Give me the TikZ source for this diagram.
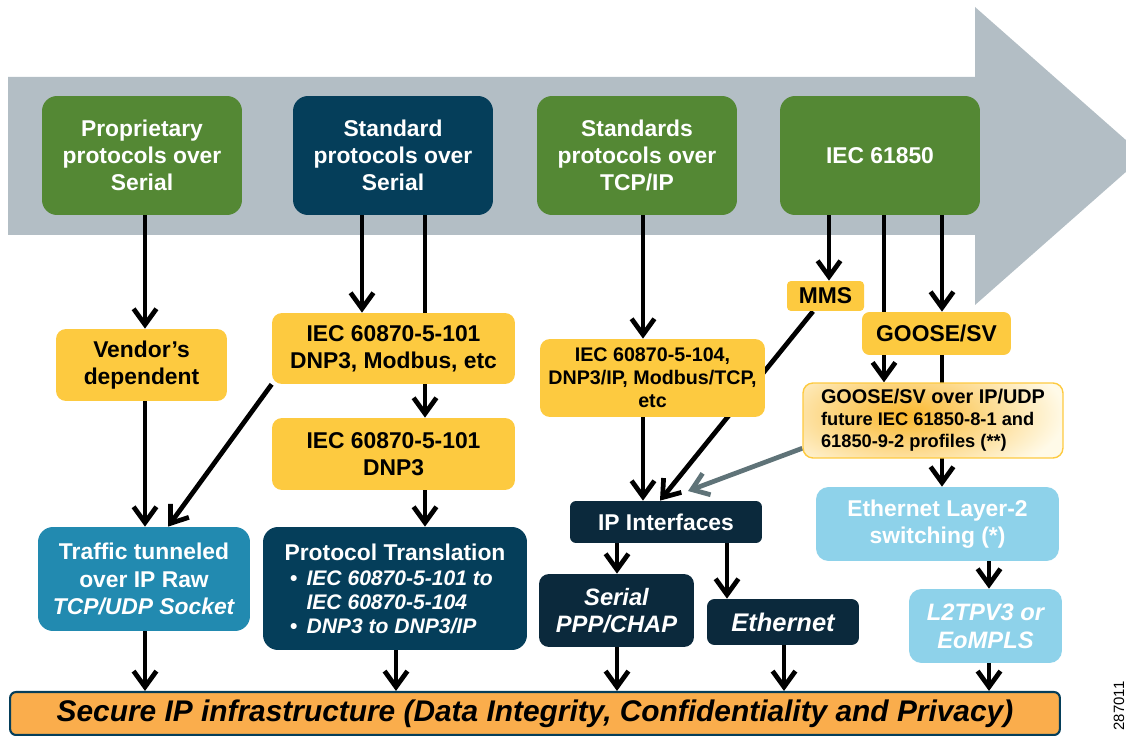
\documentclass[tikz,border=0pt]{standalone}
\usepackage{fontspec}
\setmainfont{Liberation Sans}
\usetikzlibrary{arrows.meta,backgrounds}

\definecolor{leafgreen}{RGB}{84,136,52}
\definecolor{deepteal}{RGB}{5,62,90}
\definecolor{inkblue}{RGB}{11,41,60}
\definecolor{tunnelblue}{RGB}{34,138,176}
\definecolor{sunyellow}{RGB}{253,202,64}
\definecolor{skyblue}{RGB}{142,210,234}
\definecolor{secorange}{RGB}{250,173,76}
\definecolor{arrowgrey}{RGB}{179,190,197}
\definecolor{slategrey}{RGB}{95,115,120}
\definecolor{creamglow}{RGB}{255,250,232}
\definecolor{amberglow}{RGB}{250,184,45}

\begin{document}
\begin{tikzpicture}[x=0.02cm,y=-0.02cm,
	box/.style={rounded corners=0.3cm, align=center, inner sep=2pt, font=\bfseries\fontsize{13}{15.5}\selectfont},
	greenbox/.style={box, fill=leafgreen, text=white, minimum width=4cm, minimum height=2.38cm},
	yellowbox/.style={box, rounded corners=0.2cm, fill=sunyellow, text=black},
	inkbox/.style={box, rounded corners=0.12cm, fill=inkblue, text=white},
	skybox/.style={box, rounded corners=0.25cm, fill=skyblue, text=white},
	arr/.style={line width=2.7pt, -{Straight Barb[length=9pt,width=13pt]}}]
	\useasboundingbox (0,0) rectangle (1126,736);
	% top row
	\node[greenbox] (prop) at (142,155.5) {Proprietary\\protocols over\\Serial};
	\node[greenbox, fill=deepteal] (stdser) at (393,155.5) {Standard\\protocols over\\Serial};
	\node[greenbox] (stdtcp) at (637,155.5) {Standards\\protocols over\\TCP/IP};
	\node[greenbox] (iec) at (880,155.5) {IEC 61850};
	% serial columns
	\node[yellowbox, minimum width=3.42cm, minimum height=1.44cm] (vendor) at (141.5,365) {Vendor’s\\dependent};
	\node[yellowbox, minimum width=4.86cm, minimum height=1.42cm] (iec101a) at (393.5,348.5) {IEC 60870-5-101\\DNP3, Modbus, etc};
	\node[yellowbox, minimum width=4.86cm, minimum height=1.44cm] (iec101b) at (393.5,454) {IEC 60870-5-101\\DNP3};
	\node[box, fill=tunnelblue, text=white, minimum width=4.24cm, minimum height=2.08cm] (tunnel) at (144,579) {Traffic tunneled\\over IP Raw\\\textit{TCP/UDP Socket}};
	\node[box, fill=deepteal, text=white, align=left, font=\bfseries\itshape\fontsize{12}{13.5}\selectfont, minimum width=5.28cm, minimum height=2.46cm] (transl) at (395,588.5)
		{{\upshape\fontsize{13}{15}\selectfont Protocol Translation}\\[1pt]
		\hspace*{3pt}\makebox[9.5pt][l]{•}IEC 60870-5-101 to\\
		\hspace*{12.5pt}IEC 60870-5-104\\
		\hspace*{3pt}\makebox[9.5pt][l]{•}DNP3 to DNP3/IP};
	% TCP/IP column
	\node[yellowbox, font=\bfseries\fontsize{11.2}{13}\selectfont, minimum width=4.5cm, minimum height=1.56cm] (iec104) at (652.5,378) {IEC 60870-5-104,\\DNP3/IP, Modbus/TCP,\\etc};
	\node[inkbox, minimum width=3.84cm, minimum height=0.84cm] (ipif) at (666,522) {IP Interfaces};
	\node[inkbox, rounded corners=0.2cm, font=\bfseries\itshape\fontsize{13.5}{15.5}\selectfont, minimum width=3.1cm, minimum height=1.46cm] (serial) at (616.5,610.5) {Serial\\PPP/CHAP};
	\node[inkbox, rounded corners=0.15cm, font=\bfseries\itshape\fontsize{14.5}{17}\selectfont, minimum width=3.04cm, minimum height=0.92cm] (ether) at (783,622) {Ethernet};
	% IEC 61850 column
	\node[yellowbox, rounded corners=0.08cm, inner sep=1pt, minimum width=1.54cm, minimum height=0.6cm] (mms) at (825.5,296) {MMS};
	\node[yellowbox, rounded corners=0.15cm, minimum width=2.98cm, minimum height=0.86cm] (goose) at (936.5,333.5) {GOOSE/SV};
	\node[box, rounded corners=0.2cm, draw=sunyellow, line width=0.8pt, fill=creamglow, text=black, align=left, font=\bfseries\fontsize{10.4}{12.5}\selectfont, minimum width=5.2cm, minimum height=1.5cm,
		path picture={\shade[inner color=amberglow, outer color=creamglow] (path picture bounding box.center) ++(-28,-6) ellipse [x radius=160, y radius=70];}] (gooseip) at (933,420.5)
		{{\fontsize{11.3}{12.5}\selectfont GOOSE/SV over IP/UDP}\\future IEC 61850-8-1 and\\61850-9-2 profiles (**)};
	\node[skybox, minimum width=4.86cm, minimum height=1.48cm] (l2) at (937.5,524) {Ethernet Layer-2\\switching (*)};
	\node[skybox, font=\bfseries\itshape\fontsize{13.5}{16}\selectfont, minimum width=3.06cm, minimum height=1.48cm] (l2tp) at (985.5,626) {L2TPV3 or\\EoMPLS};
	% bottom bar
	\node[box, rounded corners=0.12cm, fill=secorange, draw=deepteal, line width=1.2pt, font=\bfseries\itshape\fontsize{17}{20}\selectfont, minimum width=21cm, minimum height=0.86cm] (secure) at (535,713.5) {Secure IP infrastructure (Data Integrity, Confidentiality and Privacy)};
	\node[rotate=90, inner sep=0pt, font=\fontsize{8.5}{9}\selectfont] (figid) at (1119,706) {287011};
	% arrow columns
	\coordinate (xa) at (145,0);
	\coordinate (xb) at (362,0);
	\coordinate (xc) at (425,0);
	\coordinate (xd) at (396,0);
	\coordinate (xe) at (643,0);
	\coordinate (xf) at (617,0);
	\coordinate (xg) at (727,0);
	\coordinate (xh) at (784,0);
	\coordinate (xi) at (829,0);
	\coordinate (xj) at (884,0);
	\coordinate (xk) at (942,0);
	\coordinate (xl) at (989,0);
	\coordinate (xm) at (168,0);
	\coordinate (xn) at (813,0);
	\coordinate (xo) at (660,0);
	\coordinate (gtip) at (688,491);
	\begin{scope}[on background layer]
		\clip (0,0) rectangle (1126,736);
		\fill[arrowgrey] (8,77) -- (975,77) -- (975,7) -- (1144,156) -- (975,305) -- (975,235) -- (8,235) -- cycle;
		\draw[arr] (prop.south -| xa) -- (vendor.north -| xa);
		\draw[arr] (vendor.south -| xa) -- (tunnel.north -| xa);
		\draw[arr] (tunnel.south -| xa) -- (secure.north -| xa);
		\draw[arr] (stdser.south -| xb) -- (iec101a.north -| xb);
		\draw[arr] (stdser.south -| xc) -- (iec101b.north -| xc);
		\draw[arr] (iec101a.south west) -- (tunnel.north -| xm);
		\draw[arr] (iec101b.south -| xc) -- (transl.north -| xc);
		\draw[arr] (transl.south -| xd) -- (secure.north -| xd);
		\draw[arr] (stdtcp.south -| xe) -- (iec104.north -| xe);
		\draw[arr] (iec104.south -| xe) -- (ipif.north -| xe);
		\draw[arr] (mms.south -| xn) -- (ipif.north -| xo);
		\draw[arr, slategrey] (gooseip.-168) -- (gtip);
		\draw[arr] (ipif.south -| xf) -- (serial.north -| xf);
		\draw[arr] (ipif.south -| xg) -- (ether.north -| xg);
		\draw[arr] (serial.south -| xf) -- (secure.north -| xf);
		\draw[arr] (ether.south -| xh) -- (secure.north -| xh);
		\draw[arr] (iec.south -| xi) -- (mms.north -| xi);
		\draw[arr] (iec.south -| xj) -- (gooseip.north -| xj);
		\draw[arr] (iec.south -| xk) -- (goose.north -| xk);
		\draw[arr] (goose.south -| xk) -- (l2.north -| xk);
		\draw[arr] (l2.south -| xl) -- (l2tp.north -| xl);
		\draw[arr] (l2tp.south -| xl) -- (secure.north -| xl);
	\end{scope}
\end{tikzpicture}
\end{document}
